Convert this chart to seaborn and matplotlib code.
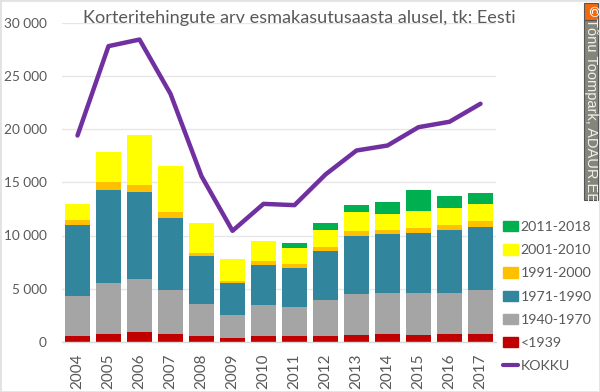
import numpy as np
import pandas as pd
import matplotlib
matplotlib.use('Agg')
import matplotlib.pyplot as plt
from matplotlib.patches import Rectangle
from matplotlib.lines import Line2D
import seaborn as sns

years = ['2004', '2005', '2006', '2007', '2008', '2009', '2010',
         '2011', '2012', '2013', '2014', '2015', '2016', '2017']
# segment heights
b_1939 = [560, 720, 940, 720, 600, 375, 560, 560, 600, 650, 780, 650, 720, 720]
b_1970 = [3720, 4810, 5000, 4120, 2930, 2185, 2880, 2690, 3300, 3850, 3780, 3910, 3905, 4120]
b_1990 = [6720, 8760, 8100, 6850, 4500, 2940, 3780, 3720, 4630, 5500, 5565, 5720, 5905, 6000]
b_2000 = [500, 710, 720, 560, 370, 220, 340, 370, 345, 440, 435, 470, 470, 500]
b_2010 = [1470, 2860, 4690, 4230, 2790, 2030, 1940, 1470, 1655, 1720, 1470, 1560, 1560, 1660]
b_2018 = [0, 0, 0, 0, 0, 0, 0, 530, 660, 740, 1130, 1990, 1160, 970]
kokku = [19390, 27780, 28400, 23300, 15570, 10440, 12970, 12850, 15730, 17980, 18450, 20170, 20680, 22370]

series = [('<1939', b_1939, '#C00000'),
          ('1940-1970', b_1970, '#A5A5A5'),
          ('1971-1990', b_1990, '#31859C'),
          ('1991-2000', b_2000, '#FFC000'),
          ('2001-2010', b_2010, '#FFFF00'),
          ('2011-2018', b_2018, '#00B050')]

sns.set_style('white')
plt.rcParams['font.family'] = ['Lato', 'DejaVu Sans']
grey = '#595959'

fig = plt.figure(figsize=(6, 3.92), dpi=100)
ax = fig.add_axes([62 / 600, 1 - 342 / 392, 434 / 600, 319.5 / 392])

bottom = np.zeros(len(years))
for name, vals, col in series:
    sns.barplot(x=years, y=vals, color=col, saturation=1, width=0.78, bottom=bottom,
                edgecolor='none', errorbar=None, ax=ax, zorder=2)
    bottom = bottom + np.array(vals)
sns.lineplot(x=years, y=kokku, color='#7030A0', lw=3.2, ax=ax, zorder=3)

ax.set_xlim(-0.5, 13.5)
ax.set_ylim(0, 30000)
ax.set_yticks(range(0, 30001, 5000))
ax.set_yticklabels([f'{v:,}'.replace(',', ' ') for v in range(0, 30001, 5000)])
ax.tick_params(axis='x', rotation=90, labelsize=11, colors=grey, length=0, pad=8)
ax.tick_params(axis='y', labelsize=9.8, colors=grey, length=0, pad=11)
ax.grid(axis='y', color='#E6E6E6', lw=1)
ax.set_axisbelow(True)
ax.set_xlabel('')
ax.set_ylabel('')
sns.despine(ax=ax, left=True, top=True, right=True, bottom=False)
ax.spines['bottom'].set_color('#D9D9D9')
ax.spines['bottom'].set_linewidth(1)

fig.text(83 / 600, 1 - 18 / 392, 'Korteritehingute arv esmakasutusaasta alusel, tk: Eesti',
         fontsize=13.1, color=grey, va='center', ha='left')

# legend
handles = [Rectangle((0, 0), 1, 1, color=c) for _, _, c in series[::-1]]
handles.append(Line2D([0], [0], color='#7030A0', lw=3))
labels = [s[0] for s in series[::-1]] + ['KOKKU']
fig.legend(handles, labels, loc='upper left', bbox_to_anchor=(503 / 600, 1 - 221 / 392),
           frameon=False, fontsize=10.2, labelcolor=grey, handlelength=1.05, handleheight=0.75,
           handletextpad=0.2, labelspacing=0.78, borderpad=0, borderaxespad=0)

# chart border + watermark
fig.add_artist(Rectangle((0, 0), 1, 1, transform=fig.transFigure, fill=False, ec='#E2E2E2', lw=2))
fig.add_artist(Rectangle((583.5 / 600, 1 - 200 / 392), 14 / 600, 180 / 392, transform=fig.transFigure,
                         fc='#85857A', ec='#555555', lw=0.8))
fig.add_artist(Rectangle((583.5 / 600, 1 - 20 / 392), 14 / 600, 17 / 392, transform=fig.transFigure,
                         fc='#F26A0F', ec='#555555', lw=0.8))
fig.text(590.5 / 600, 1 - 11.5 / 392, '©', color='white', fontsize=10, rotation=-90, ha='center', va='center',
         family='DejaVu Sans')
fig.text(590.5 / 600, 1 - 110 / 392, 'Tõnu Toompark, ADAUR.EE', color='#F0F0F0', fontsize=10.5,
         rotation=-90, ha='center', va='center', family='Liberation Sans')

fig.savefig('out.png', dpi=100)
